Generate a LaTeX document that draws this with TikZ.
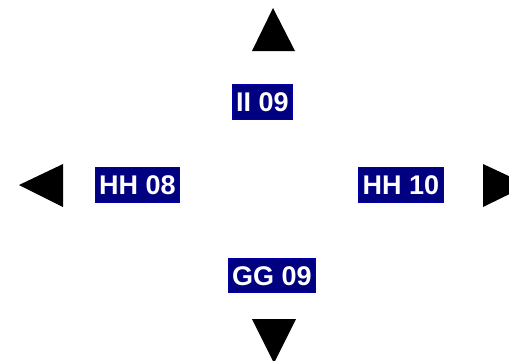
\documentclass[tikz,border=0pt]{standalone}
\usepackage{fontspec}
\setmainfont{Liberation Sans}
\definecolor{navy}{HTML}{000080}
\begin{document}
\begin{tikzpicture}[x=1pt,y=-1pt,
  lbl/.style={fill=navy,draw=navy!70!blue,line width=0.6pt,text=white,font=\fontsize{27}{27}\selectfont\bfseries,
    inner xsep=4pt,inner ysep=7.5pt,text height=19.5pt,text depth=0pt},
  tri/.style={fill=black}]
\useasboundingbox (0,0) rectangle (509,360);
\clip (0,0) rectangle (509,360);
\node[lbl] (n) at (262.5,102) {II 09};
\node[lbl] (w) at (137.5,185) {HH 08};
\node[lbl] (e) at (401,185) {HH 10};
\node[lbl] (s) at (272,275.5) {GG 09};
\fill[tri] (273,8) -- (295,51) -- (252,51) -- cycle;
\fill[tri] (19,185) -- (63,164) -- (63,207) -- cycle;
\fill[tri] (528,185) -- (483,164) -- (483,207) -- cycle;
\fill[tri] (274,363) -- (252,319) -- (296,319) -- cycle;
\end{tikzpicture}
\end{document}
